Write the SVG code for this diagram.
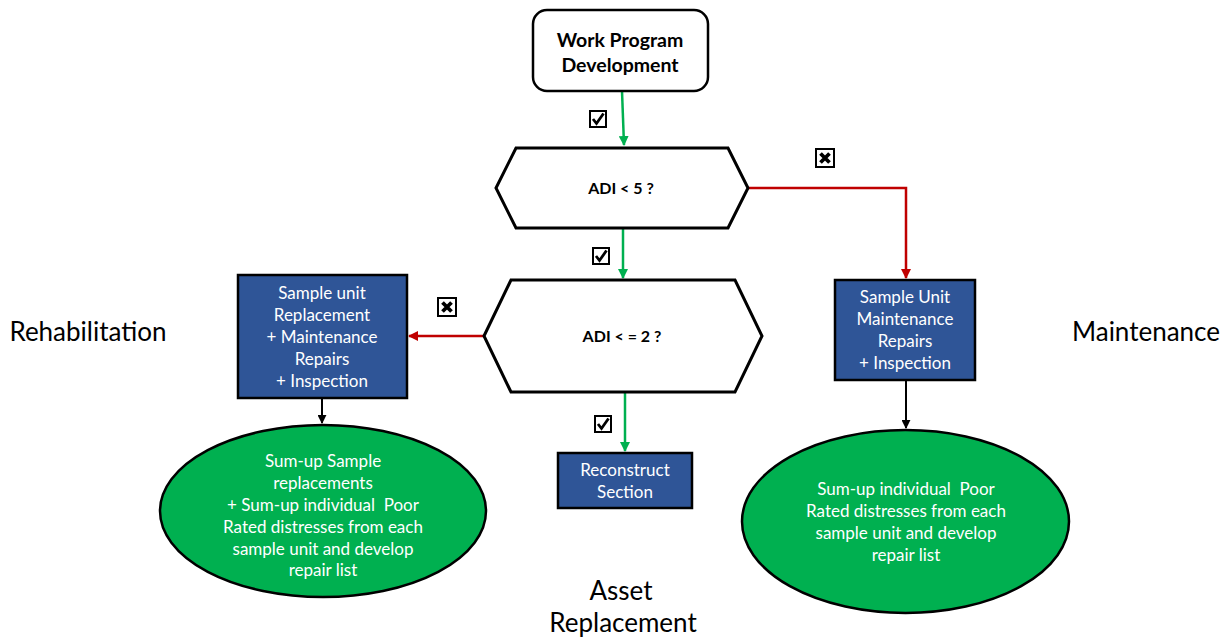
<svg xmlns="http://www.w3.org/2000/svg" width="1223" height="637" viewBox="0 0 1223 637">
<defs>
<style>
text{font-family:Lato,"Open Sans","Liberation Sans",sans-serif;text-anchor:middle}
.w{fill:#fff;font-size:17px}
.b{fill:#000;font-size:19.5px;font-weight:bold}
.d{fill:#000;font-size:16px;font-weight:bold}
.lbl{fill:#000;font-size:26px}
.blue{fill:#2F5597;stroke:#000;stroke-width:2.5}
.ell{fill:#00B050;stroke:#000;stroke-width:2.5}
.hex{fill:#fff;stroke:#000;stroke-width:3}
.g{stroke:#00B050;stroke-width:2.5;fill:none}
.r{stroke:#C00000;stroke-width:2.5;fill:none}
.k{stroke:#000;stroke-width:2;fill:none}
.box{fill:#fff;stroke:#000;stroke-width:2}
</style>
<marker id="ag" viewBox="0 0 10 10" refX="9" refY="5" markerWidth="4" markerHeight="4" orient="auto"><path d="M0,0L10,5L0,10z" fill="#00B050"/></marker>
<marker id="ar" viewBox="0 0 10 10" refX="9" refY="5" markerWidth="4" markerHeight="4" orient="auto"><path d="M0,0L10,5L0,10z" fill="#C00000"/></marker>
<marker id="ak" viewBox="0 0 10 10" refX="9" refY="5" markerWidth="4.5" markerHeight="4.5" orient="auto"><path d="M0,0L10,5L0,10z" fill="#000"/></marker>
<g id="chk"><rect class="box" x="0" y="0" width="16" height="16"/><path d="M3,8 L6.5,12.5 L13.5,2.5" stroke="#000" stroke-width="2.8" fill="none"/></g>
<g id="xb"><rect class="box" x="0" y="0" width="18" height="18"/><path d="M4.5,4.5 L13.5,13.5 M13.5,4.5 L4.5,13.5" stroke="#000" stroke-width="3.8" fill="none"/></g>
</defs>
<rect width="1223" height="637" fill="#fff"/>

<g id="connectors">
<path class="g" d="M622,91 L624,145" marker-end="url(#ag)"/>
<path class="g" d="M623,228 L623,278" marker-end="url(#ag)"/>
<path class="r" d="M748,188 L906,188 L906,278" marker-end="url(#ar)"/>
<path class="r" d="M484,336 L409,336" marker-end="url(#ar)"/>
<path class="g" d="M625,392 L625,451" marker-end="url(#ag)"/>
<path class="k" d="M322,398 L322,423" marker-end="url(#ak)"/>
<path class="k" d="M906,380 L906,428" marker-end="url(#ak)"/>
<use href="#chk" x="590" y="111"/>
<use href="#chk" x="593" y="248"/>
<use href="#chk" x="595" y="416"/>
<use href="#xb" x="816" y="149"/>
<use href="#xb" x="438" y="298"/>
</g>

<g id="start">
<rect x="533" y="10" width="175" height="81" rx="14" fill="#fff" stroke="#000" stroke-width="2.5"/>
<text class="b" x="620" y="47">Work Program</text>
<text class="b" x="620" y="72">Development</text>
</g>

<g id="dec1">
<polygon class="hex" points="496,188 516,148 728,148 748,188 728,228 516,228"/>
<text class="d" x="621" y="194">ADI &lt; 5 ?</text>
</g>

<g id="dec2">
<polygon class="hex" points="484,336 511,280 735,280 762,336 735,392 511,392"/>
<text class="d" x="622" y="342">ADI &lt; = 2 ?</text>
</g>

<g id="rehab-box">
<rect class="blue" x="238" y="275" width="169" height="123"/>
<text class="w" x="322" y="299">Sample unit</text>
<text class="w" x="322" y="321">Replacement</text>
<text class="w" x="322" y="343">+ Maintenance</text>
<text class="w" x="322" y="365">Repairs</text>
<text class="w" x="322" y="387">+ Inspection</text>
</g>

<g id="maint-box">
<rect class="blue" x="835" y="280" width="140" height="100"/>
<text class="w" x="905" y="303">Sample Unit</text>
<text class="w" x="905" y="325">Maintenance</text>
<text class="w" x="905" y="347">Repairs</text>
<text class="w" x="905" y="369">+ Inspection</text>
</g>

<g id="reconstruct">
<rect class="blue" x="558" y="453" width="134" height="55"/>
<text class="w" x="625" y="476">Reconstruct</text>
<text class="w" x="625" y="498">Section</text>
</g>

<g id="rehab-ellipse">
<ellipse class="ell" cx="323" cy="511" rx="163" ry="86"/>
<text class="w" x="323" y="467">Sum-up Sample</text>
<text class="w" x="323" y="489">replacements</text>
<text class="w" x="323" y="511" xml:space="preserve">+ Sum-up individual  Poor</text>
<text class="w" x="323" y="533">Rated distresses from each</text>
<text class="w" x="323" y="555">sample unit and develop</text>
<text class="w" x="323" y="576">repair list</text>
</g>

<g id="maint-ellipse">
<ellipse class="ell" cx="905.5" cy="521.5" rx="163.5" ry="91.5"/>
<text class="w" x="906" y="495" xml:space="preserve">Sum-up individual  Poor</text>
<text class="w" x="906" y="517">Rated distresses from each</text>
<text class="w" x="906" y="539">sample unit and develop</text>
<text class="w" x="906" y="561">repair list</text>
</g>

<g id="labels">
<text class="lbl" x="88" y="341">Rehabilitation</text>
<text class="lbl" x="1146" y="341">Maintenance</text>
<text class="lbl" x="621" y="600">Asset</text>
<text class="lbl" x="623" y="632">Replacement</text>
</g>
</svg>
